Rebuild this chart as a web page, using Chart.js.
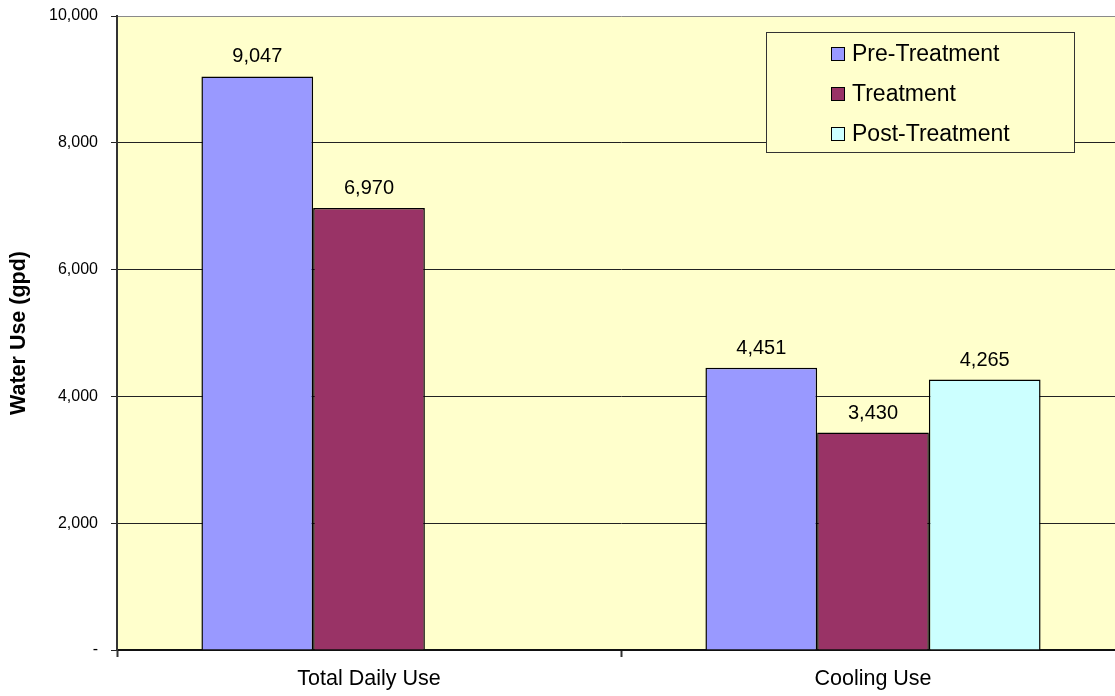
<!DOCTYPE html>
<html>
<head>
<meta charset="utf-8">
<title>Water Use (gpd)</title>
<script src="https://cdn.jsdelivr.net/npm/chart.js@4/dist/chart.umd.min.js"></script>
<style>
  html, body { margin: 0; padding: 0; background: #ffffff; overflow: hidden; }
  #wrap { width: 1125px; height: 696px; }
</style>
</head>
<body>
<div id="wrap"><canvas id="chart" width="1125" height="696"></canvas></div>
<script>
// Categories and series values (gallons per day)
const categories = ['Total Daily Use', 'Cooling Use'];
const preTreatment = [9047, 4451];
const treatment = [6970, 3430];
const postTreatment = [null, 4265];
const yTicks = [0, 2000, 4000, 6000, 8000, 10000];

const FONT = "'Liberation Sans', Arial, sans-serif";
const fmt = v => v.toLocaleString('en-US');

// Pale yellow plot area
const plotBackground = {
  id: 'plotBackground',
  beforeDraw(chart) {
    const { ctx, chartArea: a } = chart;
    ctx.save();
    ctx.fillStyle = '#FFFFCC';
    ctx.fillRect(a.left, a.top, a.right - a.left, a.bottom - a.top);
    ctx.restore();
  }
};

// Value labels above each bar
const valueLabels = {
  id: 'valueLabels',
  afterDatasetsDraw(chart) {
    const { ctx } = chart;
    ctx.save();
    ctx.font = '20px ' + FONT;
    ctx.fillStyle = '#000';
    ctx.textAlign = 'center';
    ctx.textBaseline = 'alphabetic';
    chart.data.datasets.forEach((ds, i) => {
      const meta = chart.getDatasetMeta(i);
      meta.data.forEach((el, j) => {
        const v = ds.data[j];
        if (v === null || v === undefined) return;
        ctx.fillText(fmt(v), el.x, el.y - 14);
      });
    });
    ctx.restore();
  }
};

// Boxed legend inside the plot area, upper right
const boxLegend = {
  id: 'boxLegend',
  afterDraw(chart) {
    const { ctx } = chart;
    const box = { x: 766, y: 32, w: 308, h: 120 };
    ctx.save();
    ctx.fillStyle = '#FFFFCC';
    ctx.fillRect(box.x, box.y, box.w, box.h);
    ctx.strokeStyle = '#333';
    ctx.lineWidth = 1;
    ctx.strokeRect(box.x + 0.5, box.y + 0.5, box.w, box.h);
    ctx.font = '23px ' + FONT;
    ctx.textAlign = 'left';
    ctx.textBaseline = 'middle';
    chart.data.datasets.forEach((ds, i) => {
      const cy = 54 + i * 40;
      ctx.fillStyle = ds.backgroundColor;
      ctx.fillRect(831, cy - 7, 14, 14);
      ctx.strokeStyle = '#000';
      ctx.strokeRect(831.5, cy - 6.5, 13, 13);
      ctx.fillStyle = '#000';
      ctx.fillText(ds.label, 852, cy + 1);
    });
    ctx.restore();
  }
};

new Chart(document.getElementById('chart'), {
  type: 'bar',
  data: {
    labels: categories,
    datasets: [
      { label: 'Pre-Treatment', data: preTreatment, backgroundColor: '#9999FF' },
      { label: 'Treatment', data: treatment, backgroundColor: '#993366' },
      { label: 'Post-Treatment', data: postTreatment, backgroundColor: '#CCFFFF' }
    ]
  },
  options: {
    responsive: false,
    animation: false,
    devicePixelRatio: 1,
    layout: { padding: { top: 16, left: 0, right: 0, bottom: 0 } },
    datasets: {
      bar: {
        borderColor: '#000',
        borderWidth: 1.5,
        categoryPercentage: 0.665,
        barPercentage: 1,
        skipNull: false
      }
    },
    plugins: {
      legend: { display: false },
      tooltip: { enabled: false }
    },
    scales: {
      x: {
        offset: true,
        afterFit: s => {
          s.height = 46;
          s.paddingLeft = 0; s.paddingRight = 0;
        },
        grid: {
          offset: true,
          drawOnChartArea: false,
          drawTicks: true,
          tickLength: 7,
          tickColor: '#333',
          tickWidth: 2
        },
        border: { display: true, color: '#111', width: 2 },
        ticks: {
          color: '#000',
          font: { family: FONT, size: 21.5 },
          padding: 9,
          maxRotation: 0
        }
      },
      y: {
        min: 0,
        max: 10000,
        afterFit: s => {
          s.width = 117;
          s.paddingTop = 0; s.paddingBottom = 0;
        },
        afterBuildTicks: s => { s.ticks = yTicks.map(v => ({ value: v })); },
        grid: {
          color: ctx => (ctx.tick && ctx.tick.value === 10000 ? '#8a8a8a' : '#222'),
          lineWidth: 1,
          tickLength: 6,
          tickColor: '#222'
        },
        border: { display: true, color: '#333', width: 2 },
        ticks: {
          color: '#000',
          font: { family: FONT, size: 16 },
          padding: 13,
          callback: v => (v === 0 ? '-' : fmt(v))
        },
        title: {
          display: true,
          text: 'Water Use (gpd)',
          color: '#000',
          font: { family: FONT, size: 21.5, weight: 'bold' },
          padding: { top: 6, bottom: 0 }
        }
      }
    }
  },
  plugins: [plotBackground, valueLabels, boxLegend]
});
</script>
</body>
</html>
